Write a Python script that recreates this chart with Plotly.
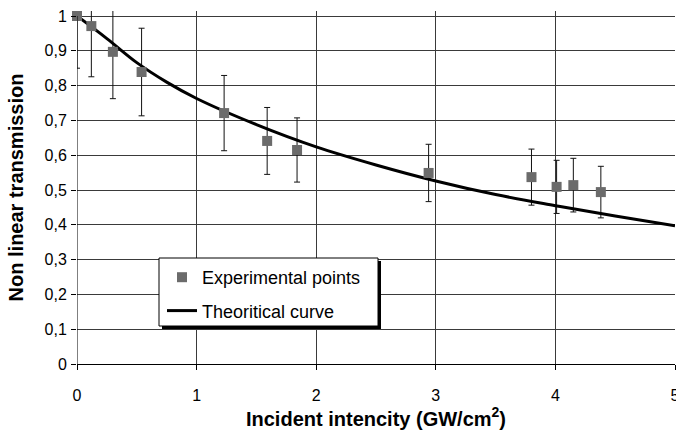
import plotly.graph_objects as go

# Experimental points
exp_x = [0.0, 0.12, 0.30, 0.54, 1.23, 1.59, 1.84, 2.94, 3.80, 4.01, 4.15, 4.38]
exp_y = [1.0, 0.971, 0.897, 0.839, 0.721, 0.641, 0.615, 0.549, 0.537, 0.509, 0.514, 0.494]
error_percent = 15

# Theoretical curve
curve_x = [0.0, 0.25, 0.5, 0.75, 1.0, 1.5, 2.0, 2.5, 3.0, 3.5, 4.0, 4.5, 5.0]
curve_y = [1.0, 0.935, 0.866, 0.81, 0.763, 0.688, 0.624, 0.572, 0.526, 0.487, 0.455, 0.425, 0.397]

x_ticks = [0, 1, 2, 3, 4, 5]
x_tick_labels = ["0", "1", "2", "3", "4", "5"]
y_ticks = [0, 0.1, 0.2, 0.3, 0.4, 0.5, 0.6, 0.7, 0.8, 0.9, 1.0]
y_tick_labels = ["0", "0,1", "0,2", "0,3", "0,4", "0,5", "0,6", "0,7", "0,8", "0,9", "1"]

FONT = "Liberation Sans, Arial, sans-serif"
W, H = 676, 435
ML, MR, MT, MB = 77, 1, 11, 71
PW, PH = W - ML - MR, H - MT - MB
Y_TOP = PH / 348.0  # y=1 sits 5px below the top of the plotting area

def px_x(p):
    return (p - ML) / PW

def px_y(p):
    return (H - MB - p) / PH

fig = go.Figure()

# error bars (clipped to the plot area)
fig.add_trace(go.Scatter(
    x=exp_x, y=exp_y, mode="markers",
    marker=dict(size=10, symbol="square", color="#6b6b6b", opacity=0),
    error_y=dict(type="percent", value=error_percent, color="#111111",
                 thickness=1, width=3),
    showlegend=False, hoverinfo="skip", cliponaxis=True,
))

fig.add_trace(go.Scatter(
    x=curve_x, y=curve_y, mode="lines", name="Theoritical curve",
    line=dict(color="black", width=3, shape="spline", smoothing=1.0),
    legendgroup="b", legendrank=2, cliponaxis=True,
))

fig.add_trace(go.Scatter(
    x=exp_x, y=exp_y, mode="markers", name="Experimental points",
    marker=dict(size=10, symbol="square", color="#6b6b6b", line=dict(width=0)),
    legendgroup="a", legendrank=1, cliponaxis=False,
))

grid = "#3a3a3a"
fig.update_layout(
    width=W, height=H,
    margin=dict(l=ML, r=MR, t=MT, b=MB, pad=0, autoexpand=False),
    paper_bgcolor="white", plot_bgcolor="white",
    font=dict(family=FONT, size=16, color="black"),
    xaxis=dict(
        range=[0, 5], tickvals=x_ticks, ticktext=x_tick_labels,
        ticks="outside", ticklen=5, automargin=False,
        tickcolor="black", showgrid=True, gridcolor=grid, gridwidth=1,
        showline=True, linecolor="black", linewidth=1, zeroline=False,
        ticklabelstandoff=12, ticklabeloverflow="allow",
        tickfont=dict(family=FONT, size=16),
        title=dict(text="<b>Incident intencity (GW/cm<sup>2</sup>)</b>",
                   font=dict(family=FONT, size=20), standoff=6),
    ),
    yaxis=dict(
        range=[0, Y_TOP], tickvals=y_ticks, ticktext=y_tick_labels,
        ticks="outside", ticklen=5, tickcolor="black", automargin=False,
        showgrid=True, gridcolor=grid, gridwidth=1,
        showline=False, zeroline=False, ticklabelstandoff=1,
        tickfont=dict(family=FONT, size=16),
        title=dict(text="<b>Non linear transmission</b>",
                   font=dict(family=FONT, size=20), standoff=15),
    ),
    legend=dict(
        x=px_x(162), y=px_y(259), xanchor="left", yanchor="top",
        bgcolor="rgba(0,0,0,0)", borderwidth=0,
        traceorder="grouped", tracegroupgap=7,
        font=dict(family=FONT, size=18),
    ),
    shapes=[
        # y axis line from 0 to 1
        dict(type="line", xref="x", yref="y", x0=0, x1=0, y0=0, y1=1,
             line=dict(color="black", width=1), layer="above"),
        # legend shadow
        dict(type="rect", xref="paper", yref="paper",
             x0=px_x(162), x1=px_x(381), y0=px_y(261), y1=px_y(329),
             fillcolor="black", line=dict(width=0), layer="above"),
        # legend box
        dict(type="rect", xref="paper", yref="paper",
             x0=px_x(159), x1=px_x(378), y0=px_y(258), y1=px_y(326),
             fillcolor="white", line=dict(color="black", width=1), layer="above"),
    ],
)

fig.write_html("out.html")
